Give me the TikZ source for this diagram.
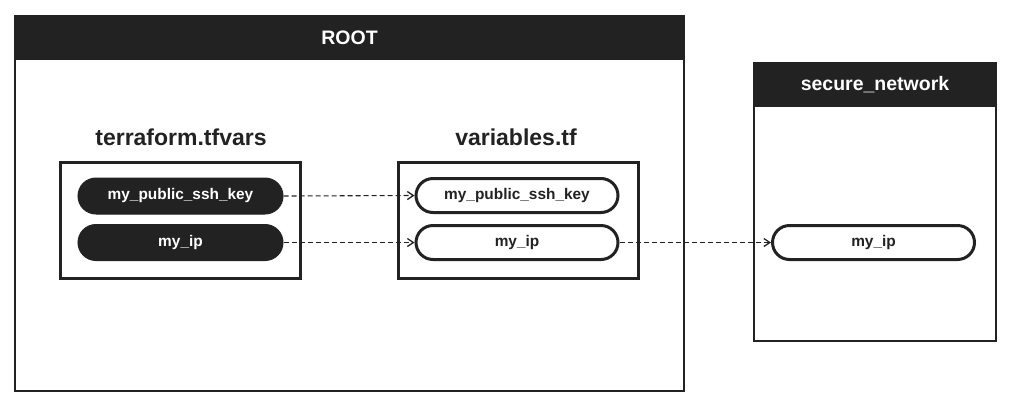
\documentclass[tikz,border=0pt]{standalone}
\usepackage{fontspec}
\setmainfont{Liberation Sans}
\usetikzlibrary{arrows.meta,positioning}
\definecolor{ink}{HTML}{222222}
\tikzset{
  frame/.style={draw=ink, line width=2pt, fill=white, inner sep=0pt, anchor=north west},
  header/.style={fill=ink, draw=ink, line width=2pt, inner sep=0pt, anchor=north west, text=white, font=\bfseries\fontsize{19.5}{22}\selectfont},
  filebox/.style={draw=ink, line width=3pt, inner sep=0pt, minimum width=240pt, minimum height=116pt, anchor=north west},
  filelabel/.style={text=ink, font=\bfseries\fontsize{23}{26}\selectfont},
  darkpill/.style={fill=ink, draw=ink, line width=1pt, rounded corners=18pt, minimum width=205pt, minimum height=36pt, inner sep=0pt, text=white, font=\bfseries\fontsize{15.4}{18}\selectfont},
  lightpill/.style={fill=white, draw=ink, line width=3pt, rounded corners=17pt, minimum width=202pt, minimum height=34pt, inner sep=0pt, text=ink, font=\bfseries\fontsize{15.4}{18}\selectfont},
  link/.style={draw=ink, line width=1.1pt, dash pattern=on 5pt off 3pt, -{Straight Barb[length=6pt,width=8pt,line width=1.3pt]}}
}
\begin{document}
\begin{tikzpicture}[x=1pt,y=-1pt]
\useasboundingbox (0,0) rectangle (1009,408);
% ROOT module
\node[frame, minimum width=669pt, minimum height=375pt] (root) at (14,15) {};
\node[header, minimum width=669pt, minimum height=43pt] (roothead) at (14,15) {ROOT};
% secure_network module
\node[frame, minimum width=242pt, minimum height=278pt] (sec) at (753,62) {};
\node[header, minimum width=242pt, minimum height=43pt] (sechead) at (753,62) {secure\_network};
% file boxes
\node[filebox] (tfvars) at (59,161) {};
\node[filelabel] (tfvarslabel) at (181,137) {terraform.tfvars};
\node[filebox] (vars) at (397,161) {};
\node[filelabel] (varslabel) at (516,137) {variables.tf};
% pills
\node[darkpill] (tkey) at (180.5,196) {my\_public\_ssh\_key};
\node[darkpill] (tip) at (180.5,242.5) {my\_ip};
\node[lightpill] (vkey) at (517,195.5) {my\_public\_ssh\_key};
\node[lightpill] (vip) at (517,242.5) {my\_ip};
\node[lightpill] (sip) at (873.5,242.5) {my\_ip};
% links
\draw[link] (tkey.east) -- (vkey.west);
\draw[link] (tip.east) -- (vip.west);
\draw[link] (vip.east) -- (sip.west);
\end{tikzpicture}
\end{document}
